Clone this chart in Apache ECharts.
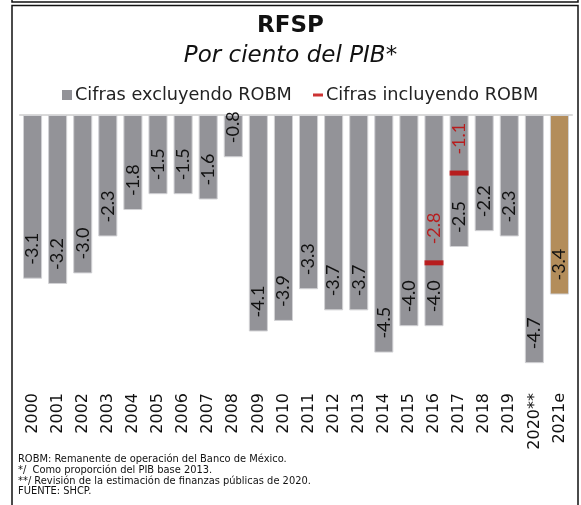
<!DOCTYPE html>
<html>
<head>
<meta charset="utf-8">
<script src="https://cdn.jsdelivr.net/npm/echarts@6/dist/echarts.min.js"></script>
<style>
  html, body { margin: 0; padding: 0; background: #fff; }
  #chart { width: 581px; height: 505px; }
</style>
</head>
<body>
<div id="chart"></div>
<script>
// Requerimientos Financieros del Sector Público, % del PIB
const years = ['2000', '2001', '2002', '2003', '2004', '2005', '2006', '2007', '2008', '2009', '2010',
  '2011', '2012', '2013', '2014', '2015', '2016', '2017', '2018', '2019', '2020**', '2021e'];
const excluyendoROBM = [-3.1, -3.2, -3.0, -2.3, -1.8, -1.5, -1.5, -1.6, -0.8, -4.1, -3.9,
  -3.3, -3.7, -3.7, -4.5, -4.0, -4.0, -2.5, -2.2, -2.3, -4.7, -3.4];
const incluyendoROBM = [null, null, null, null, null, null, null, null, null, null, null,
  null, null, null, null, null, -2.8, -1.1, null, null, null, null];
const estimateYear = '2021e';
const footnotes = [
  'ROBM: Remanente de operación del Banco de México.',
  '*/  Como proporción del PIB base 2013.',
  '**/ Revisión de la estimación de finanzas públicas de 2020.',
  'FUENTE: SHCP.'
];

const GRAY = '#939398';
const TAN = '#b38d5b';
const RED = '#c00000';
const headFont = '"DejaVu Sans", Inter, sans-serif';
const numFont = 'Lato, "Open Sans", sans-serif';

const chart = echarts.init(document.getElementById('chart'), null, { renderer: 'canvas' });

const barData = excluyendoROBM.map((v, i) =>
  years[i] === estimateYear ? { value: v, itemStyle: { color: TAN } } : v);

chart.setOption({
  animation: false,
  backgroundColor: '#fff',
  title: [
    { text: 'RFSP', left: 'center', top: 15, padding: 0,
      textStyle: { fontFamily: headFont, fontSize: 23, fontWeight: 'bold', color: '#111' } },
    { text: 'Por ciento del PIB*', left: 'center', top: 45, padding: 0,
      textStyle: { fontFamily: headFont, fontSize: 23, fontStyle: 'italic', fontWeight: 'normal', color: '#111' } },
    { text: footnotes.join('\n'), left: 18, top: 454, padding: 0,
      textStyle: { fontFamily: headFont, fontSize: 9.9, lineHeight: 10.8, fontWeight: 'normal', color: '#111' } }
  ],
  legend: [
    { data: ['Cifras excluyendo ROBM'], left: 62, top: 86, padding: 0,
      icon: 'rect', itemWidth: 10, itemHeight: 10, itemGap: 4,
      itemStyle: { borderWidth: 0 },
      textStyle: { fontFamily: headFont, fontSize: 17.7, color: '#222', padding: [0, 0, 0, -2] } },
    { data: ['Cifras incluyendo ROBM'], left: 313, top: 86, padding: 0,
      icon: 'rect', itemWidth: 10, itemHeight: 3, itemGap: 4,
      itemStyle: { borderWidth: 0 },
      textStyle: { fontFamily: headFont, fontSize: 17.7, color: '#222', padding: [0, 0, 0, -2] } }
  ],
  grid: { left: 20, right: 9, top: 115, height: 264, containLabel: false },
  xAxis: [
    { type: 'category', data: years, position: 'bottom',
      axisLine: { show: false }, axisTick: { show: false },
      axisLabel: { rotate: 90, margin: 14, interval: 0, fontFamily: headFont, fontSize: 16, color: '#111' } },
    { type: 'category', data: years, position: 'top',
      axisLine: { show: true, onZero: false, lineStyle: { color: '#d9d9d9', width: 2 } },
      axisTick: { show: false }, axisLabel: { show: false } }
  ],
  yAxis: { type: 'value', min: -5, max: 0, show: false, splitLine: { show: false } },
  series: [
    { name: 'Cifras excluyendo ROBM', type: 'bar', xAxisIndex: 0, data: barData,
      barCategoryGap: '24%',
      itemStyle: { color: GRAY, borderColor: '#d2d2d5', borderWidth: 1 },
      label: { show: true, position: 'insideBottom', distance: 14, rotate: 90,
        align: 'left', verticalAlign: 'middle',
        fontFamily: numFont, fontSize: 18, color: '#111',
        formatter: p => Number(p.value).toFixed(1) } },
    { name: 'Cifras incluyendo ROBM', type: 'scatter', xAxisIndex: 0, data: incluyendoROBM, z: 5,
      symbol: 'rect', symbolSize: [19, 5], itemStyle: { color: RED },
      label: { show: true, position: 'top', distance: 16, rotate: 90,
        align: 'left', verticalAlign: 'middle',
        fontFamily: numFont, fontSize: 18, color: RED,
        formatter: p => Number(p.value).toFixed(1) } }
  ],
  graphic: [
    { type: 'polyline', shape: { points: [[12, 0], [12, 2], [578, 2], [578, 0]] },
      style: { stroke: '#111', lineWidth: 1.5, fill: null }, silent: true },
    { type: 'polyline', shape: { points: [[12, 510], [12, 5.5], [578, 5.5], [578, 510]] },
      style: { stroke: '#111', lineWidth: 1.5, fill: null }, silent: true }
  ]
});
</script>
</body>
</html>
